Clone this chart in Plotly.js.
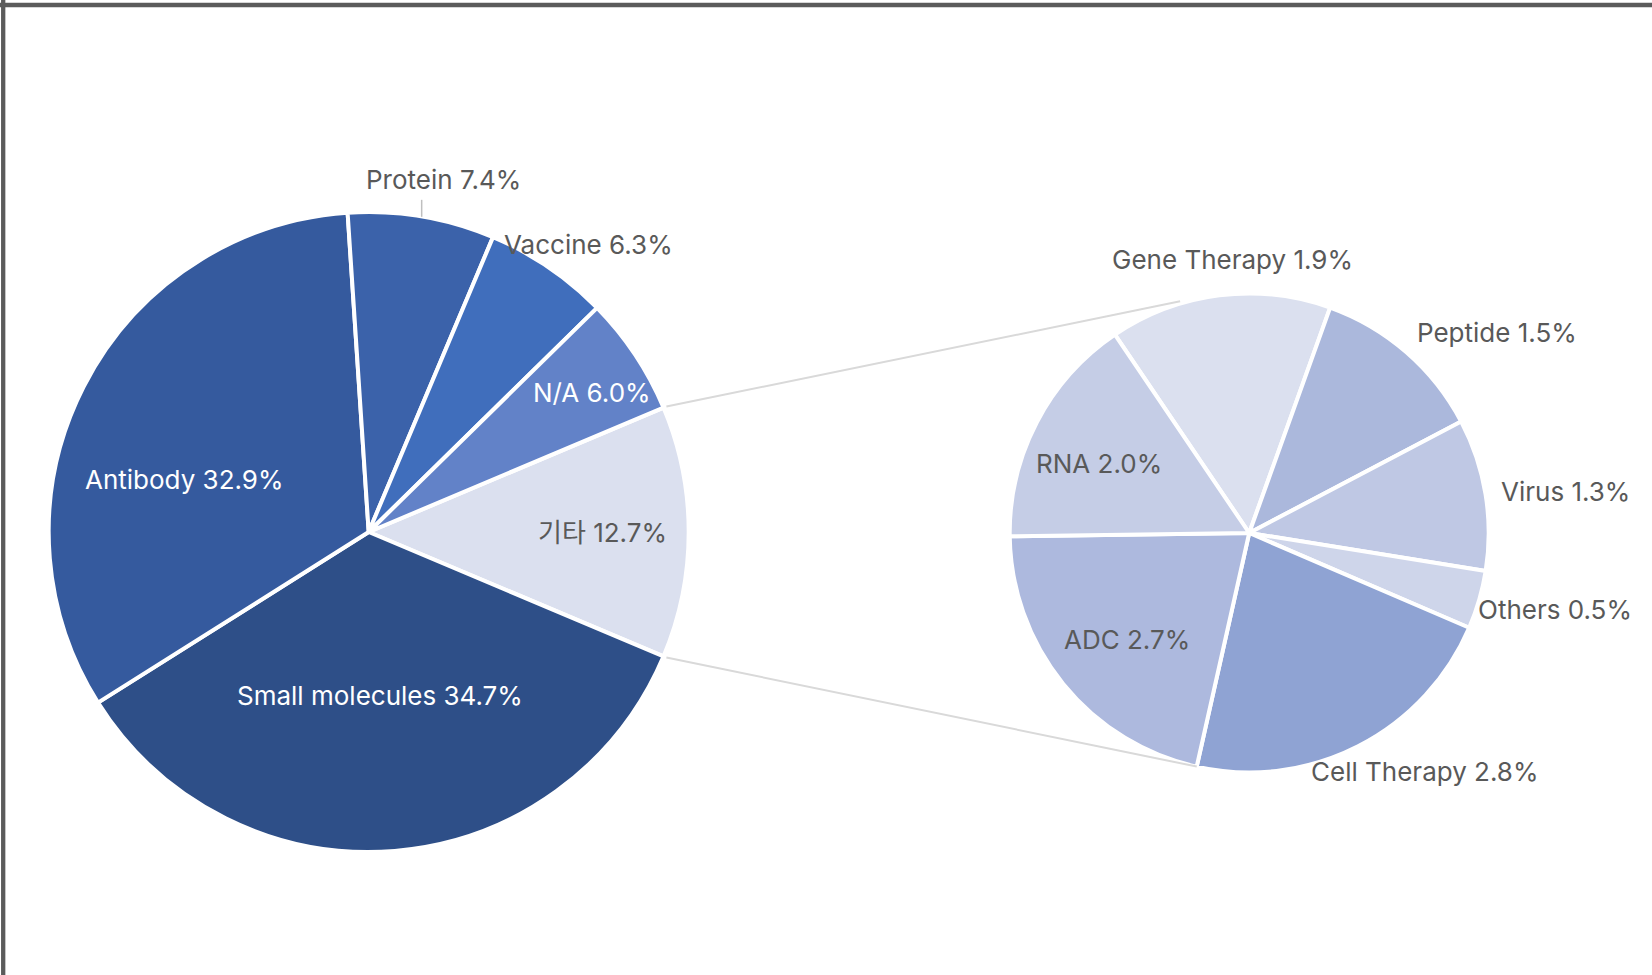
<!DOCTYPE html>
<html><head><meta charset="utf-8">
<script src="https://cdn.plot.ly/plotly-3.0.1.min.js"></script>
<style>html,body{margin:0;padding:0;background:#fff;overflow:hidden;} #chart{width:1652px;height:975px;}</style>
</head><body><div id="chart"></div>
<script>
// ---- data (main pie, clockwise starting at the top edge of 기타) ----
const mainLabels = ['기타', 'Small molecules', 'Antibody', 'Protein', 'Vaccine', 'N/A'];
const mainValues = [12.7, 34.7, 32.9, 7.4, 6.3, 6.0];
// ---- data (breakdown of 기타, clockwise) ----
const subLabels = ['Gene Therapy', 'Peptide', 'Virus', 'Others', 'Cell Therapy', 'ADC', 'RNA'];
const subValues = [1.9, 1.5, 1.3, 0.5, 2.8, 2.7, 2.0];

// ---- styles ----
const mainColors = ['#dbe0ef', '#2e4f88', '#355a9e', '#3b62aa', '#406ebc', '#6282c8'];
const subColors  = ['#dbe0ef', '#abb8dc', '#bfc8e4', '#ced5ea', '#8fa3d3', '#adb9de', '#c5cde6'];
const mainTextColors = ['#595959', '#ffffff', '#ffffff', '#595959', '#595959', '#ffffff'];
const subTextColors  = ['#595959', '#595959', '#595959', '#595959', '#595959', '#595959', '#595959'];
// label placement: [radius factor, angle offset in degrees from slice middle]
const mainLabelPlace = [[0.734, 0], [0.515, -0.6], [0.603, 11.1], [1.135, -2.5], [1.138, -3.2], [0.827, -1.7]];
const subLabelPlace  = [[1.153, -3.6], [1.342, -10.0], [1.343, -1.8], [1.328, 2.1], [1.246, 9.2], [0.683, 1.8], [0.699, 2.7]];

const W = 1652, H = 975;
const LW = 4;
const big = {cx: 368.7, cy: 532, r: 318};
const small = {cx: 1249.2, cy: 533, r: 237.5};
const SUB_SPLIT_DEG = 180.8; // direction of the ADC / RNA boundary
const FONT = 'Inter, "Noto Sans CJK KR", sans-serif';
const FS = 26;

function domainFor(g) {
  const r = g.r + LW / 2;
  return {x: [(g.cx - r) / W, (g.cx + r) / W], y: [1 - (g.cy + r) / H, 1 - (g.cy - r) / H]};
}
function sum(a) { return a.reduce((s, v) => s + v, 0); }
// math angles (deg, ccw positive) of slice boundaries for clockwise drawing from startDeg
function sliceAngles(values, startDeg) {
  const tot = sum(values); let cum = 0; const out = [];
  values.forEach(v => {
    const a0 = startDeg - cum / tot * 360;
    const a1 = startDeg - (cum + v) / tot * 360;
    out.push({a0, a1, mid: (a0 + a1) / 2});
    cum += v;
  });
  return out;
}
function pt(g, deg, k) {
  const t = deg * Math.PI / 180;
  return [g.cx + g.r * k * Math.cos(t), g.cy - g.r * k * Math.sin(t)];
}
const px2x = x => x / W, px2y = y => 1 - y / H;

// main pie: 기타 centred on the 3 o'clock direction
const mainTotal = sum(mainValues);
const mainStart = mainValues[0] / mainTotal * 360 / 2;
const mainAng = sliceAngles(mainValues, mainStart);
// sub pie: last slice (RNA) ends / ADC begins near 9 o'clock
const subTotal = sum(subValues);
const subStart = SUB_SPLIT_DEG - subValues[subValues.length - 1] / subTotal * 360;
const subAng = sliceAngles(subValues, subStart);

const traces = [
  {type: 'pie', labels: mainLabels, values: mainValues, sort: false, direction: 'clockwise',
   rotation: 90 - mainStart, domain: domainFor(big), textinfo: 'none', hoverinfo: 'label+percent',
   marker: {colors: mainColors, line: {color: '#ffffff', width: LW}}, showlegend: false},
  {type: 'pie', labels: subLabels, values: subValues, sort: false, direction: 'clockwise',
   rotation: 90 - subStart, domain: domainFor(small), textinfo: 'none', hoverinfo: 'label+value',
   marker: {colors: subColors, line: {color: '#ffffff', width: LW}}, showlegend: false}
];

const annotations = [];
function addLabels(g, labels, values, ang, place, colors) {
  labels.forEach((lab, i) => {
    const p = pt(g, ang[i].mid + place[i][1], place[i][0]);
    annotations.push({x: px2x(p[0]), y: px2y(p[1]), xref: 'paper', yref: 'paper',
      text: lab + ' ' + values[i].toFixed(1) + '%', showarrow: false, xanchor: 'center', yanchor: 'middle',
      font: {family: FONT, size: FS, color: colors[i]}});
  });
}
addLabels(big, mainLabels, mainValues, mainAng, mainLabelPlace, mainTextColors);
addLabels(small, subLabels, subValues, subAng, subLabelPlace, subTextColors);

const shapes = [];
// connector lines from the 기타 slice edges to the breakdown pie
const upA = pt(big, mainAng[0].a0, 1.016), upB = pt(small, 106.6, 1.018);
const loA = pt(big, mainAng[0].a1, 1.016), loB = pt(small, subAng[4].a1, 1.008);
[[upA, upB], [loA, loB]].forEach(([a, b]) => shapes.push({type: 'line', xref: 'paper', yref: 'paper',
  x0: px2x(a[0]), y0: px2y(a[1]), x1: px2x(b[0]), y1: px2y(b[1]), line: {color: '#d9d9d9', width: 2}}));
// leader line for Protein label
const pi = 3;
const lp = pt(big, mainAng[pi].mid, 1.005);
shapes.push({type: 'line', xref: 'paper', yref: 'paper', x0: px2x(lp[0]), y0: px2y(lp[1]),
  x1: px2x(lp[0]), y1: px2y(lp[1] - 17), line: {color: '#bfbfbf', width: 1.5}});
// frame (top and left edges visible)
shapes.push({type: 'line', xref: 'paper', yref: 'paper', x0: 0, x1: 1, y0: px2y(5), y1: px2y(5), line: {color: '#5b5b5b', width: 4.5}});
shapes.push({type: 'line', xref: 'paper', yref: 'paper', x0: px2x(3.2), x1: px2x(3.2), y0: 0, y1: 1, line: {color: '#5b5b5b', width: 4.3}});

const layout = {width: W, height: H, margin: {l: 0, r: 0, t: 0, b: 0}, paper_bgcolor: '#ffffff',
  plot_bgcolor: '#ffffff', showlegend: false, annotations, shapes, font: {family: FONT}};
Plotly.newPlot('chart', traces, layout, {displayModeBar: false});
</script></body></html>
